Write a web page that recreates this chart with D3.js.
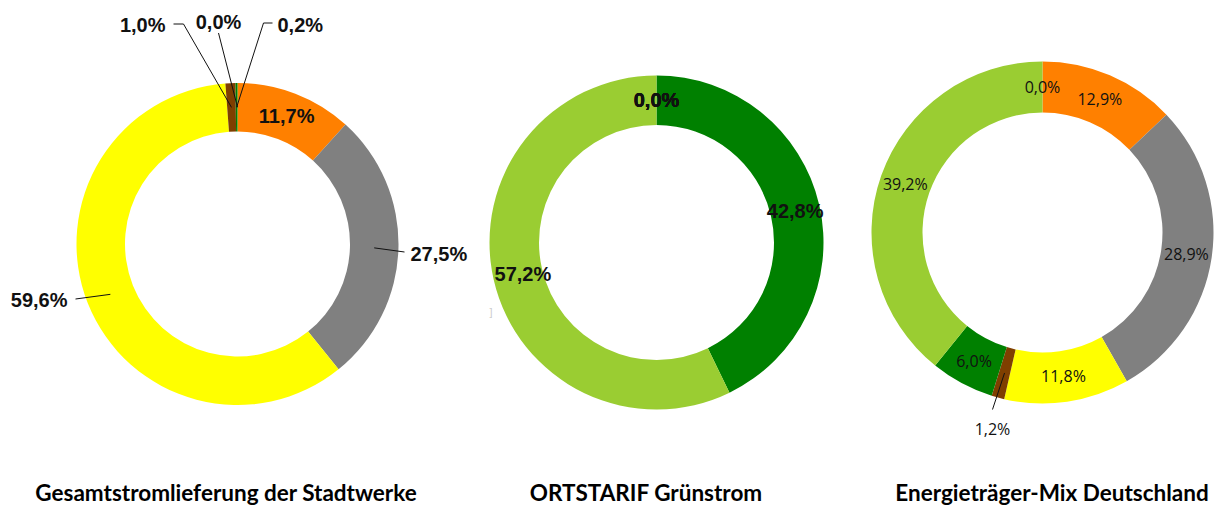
<!DOCTYPE html>
<html>
<head>
<meta charset="utf-8">
<script src="https://cdn.jsdelivr.net/npm/d3@7"></script>
<style>
  body { margin: 0; background: #fff; }
  svg { display: block; }
</style>
</head>
<body>
<div id="chart-area"></div>
<script>
// slice colours, in category order (Kohle, Kernkraft, Erdgas, sonstige fossile, EEG, erneuerbare, sonstige)
var sliceColors = ["#ff8000", "#808080", "#ffff00", "#7f3f00", "#008000", "#9acd32", "#9acd32"];

// values per chart (percent)
var gesamtValues = [11.7, 27.5, 59.6, 1.0, 0.2, 0.0];
var ortstarifValues = [0.0, 0.0, 0.0, 0.0, 42.8, 57.2];
var mixValues = [12.9, 28.9, 11.8, 1.2, 6.0, 39.2, 0.0];

var chartTitles = ["Gesamtstromlieferung der Stadtwerke", "ORTSTARIF Grünstrom", "Energieträger-Mix Deutschland"];

var width = 1216, height = 507;

var svg = d3.select("#chart-area").append("svg")
  .attr("width", width)
  .attr("height", height);

var fmt = function(v) { return d3.format(".1f")(v).replace(".", ",") + "%"; };

// layout of each donut; outside labels: [labelX, labelY, anchor, leader points...] relative to centre
var charts = [
  {
    values: gesamtValues, cx: 237.5, cy: 244, r: 161, ri: 112.5, titleX: 226,
    font: "bold 20px 'Liberation Sans', Arial, sans-serif",
    nudge: {},
    outside: {
      1: { x: 173, y: 10, anchor: "start", pts: [[167, 8]] },
      2: { x: -170, y: 56, anchor: "end", pts: [[-162, 55]] },
      3: { x: -72, y: -219, anchor: "end", pts: [[-54, -220], [-64, -220]] },
      4: { x: 40, y: -219, anchor: "start", pts: [[26, -221], [35, -221]] },
      5: { x: -19, y: -222, anchor: "middle", pts: [[-19, -211]] }
    }
  },
  {
    values: ortstarifValues, cx: 656.5, cy: 242.5, r: 167, ri: 117.5, titleX: 646,
    font: "bold 20px 'Liberation Sans', Arial, sans-serif",
    nudge: { 5: 5 },
    outside: {}
  },
  {
    values: mixValues, cx: 1042.5, cy: 232.5, r: 171, ri: 120, titleX: 1052,
    font: "16px 'Open Sans', sans-serif",
    nudge: {},
    outside: {
      3: { x: -50, y: 196, anchor: "middle", pts: [[-50, 177]] }
    }
  }
];

var pie = d3.pie().sort(null).value(function(d) { return d; });

charts.forEach(function(c, ci) {
  var arc = d3.arc().innerRadius(c.ri).outerRadius(c.r);
  var mid = d3.arc().innerRadius((c.r + c.ri) / 2).outerRadius((c.r + c.ri) / 2);

  var g = svg.append("g").attr("transform", "translate(" + c.cx + "," + c.cy + ")");
  var arcs = pie(c.values);

  g.selectAll("path.slice")
    .data(arcs)
    .enter().append("path")
    .attr("class", "slice")
    .attr("d", arc)
    .attr("fill", function(d, i) { return sliceColors[i]; });

  // leader lines
  arcs.forEach(function(d, i) {
    var o = c.outside[i];
    if (!o) return;
    var pts = [mid.centroid(d)].concat(o.pts);
    g.append("path")
      .attr("d", d3.line()(pts))
      .attr("fill", "none")
      .attr("stroke", "#111")
      .attr("stroke-width", 1);
  });

  g.selectAll("text.lbl")
    .data(arcs)
    .enter().append("text")
    .attr("class", "lbl")
    .attr("x", function(d, i) {
      return c.outside[i] ? c.outside[i].x : mid.centroid(d)[0] + (c.nudge[i] || 0);
    })
    .attr("y", function(d, i) { return c.outside[i] ? c.outside[i].y : mid.centroid(d)[1]; })
    .attr("text-anchor", function(d, i) { return c.outside[i] ? c.outside[i].anchor : "middle"; })
    .attr("dominant-baseline", "central")
    .style("font", c.font)
    .attr("fill", "#111")
    .text(function(d) { return fmt(d.data); });

  svg.append("text")
    .attr("x", c.titleX)
    .attr("y", 501)
    .attr("text-anchor", "middle")
    .style("font", "bold 22.5px Lato, 'Open Sans', sans-serif")
    .attr("fill", "#000")
    .text(chartTitles[ci]);
});

// small stray mark left of the middle donut
svg.append("text")
  .attr("x", 491).attr("y", 312)
  .attr("text-anchor", "middle")
  .attr("dominant-baseline", "central")
  .style("font", "11px 'Liberation Sans', sans-serif")
  .attr("fill", "#ccc")
  .text("]");
</script>
</body>
</html>
